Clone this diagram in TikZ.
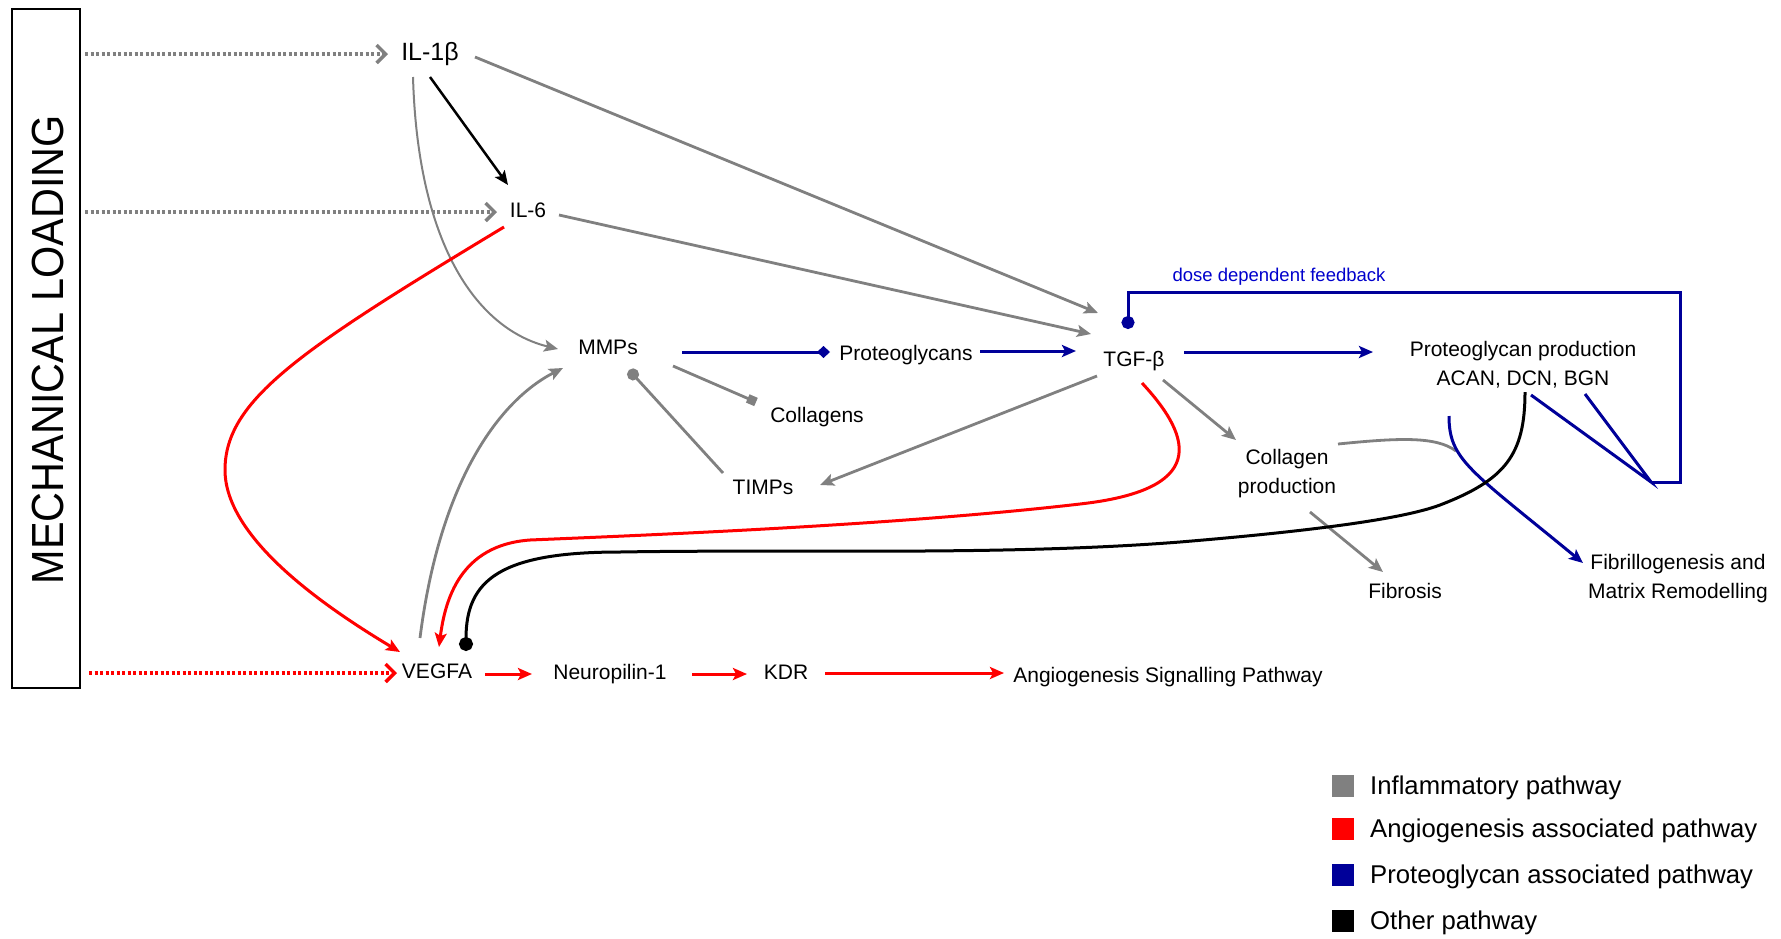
\documentclass[tikz,border=0pt]{standalone}
\usepackage{fontspec}
\setmainfont{Liberation Sans}
\usetikzlibrary{arrows.meta}
\definecolor{inflgray}{RGB}{128,128,128}
\definecolor{angred}{RGB}{255,0,0}
\definecolor{pgblue}{RGB}{0,0,153}
\definecolor{fbblue}{RGB}{0,0,204}

\begin{document}
\begin{tikzpicture}[x=1pt, y=-1pt,
  hd/.tip={Stealth[length=14pt,width=12pt,inset=3pt]},
  lbl/.style={inner sep=0pt, font=\fontsize{21}{29}\selectfont, text height=15pt, text depth=0pt},
  lbltwo/.style={inner sep=0pt, font=\fontsize{21}{29}\selectfont, align=center},
  gl/.style={draw=inflgray, line width=2.8pt},
  bl/.style={draw=pgblue, line width=3pt},
  rl/.style={draw=angred, line width=3pt},
  kl/.style={draw=black, line width=3pt},
  load/.style={line width=3.5pt, dash pattern=on 3pt off 2.5pt, -{Straight Barb[length=9pt,width=18pt]}},
  lsq/.style={minimum size=22pt, inner sep=0pt},
  ltx/.style={anchor=west, inner sep=0pt, font=\fontsize{25.7}{30}\selectfont, text height=18.4pt, text depth=0pt}]

\useasboundingbox (0,0) rectangle (1781,938);

% stimulus box
\node[draw=black, line width=2.5pt, minimum width=68pt, minimum height=679pt, inner sep=0pt, outer sep=0pt] (box) at (46,348.5) {};
\node[rotate=90, inner sep=0pt, font=\fontsize{45}{45}\selectfont] (mech) at (48,349.5) {\scalebox{0.92}[1]{MECHANICAL LOADING}};

% pathway members
\node[lbl, font=\fontsize{25}{30}\selectfont, text height=18pt] (il1b) at (430,51) {IL-1β};
\node[lbl] (il6) at (528,210) {IL-6};
\node[lbl] (mmps) at (608,347) {MMPs};
\node[lbl] (pg) at (906,353) {Proteoglycans};
\node[lbl] (coll) at (817,415) {Collagens};
\node[lbl] (timps) at (763,487) {TIMPs};
\node[lbl] (tgfb) at (1134,359) {TGF-β};
\node[lbltwo] (pgprod) at (1523,364.5) {Proteoglycan production\\ACAN, DCN, BGN};
\node[inner sep=0pt, font=\fontsize{18.5}{22}\selectfont, text=fbblue, text height=13.5pt, text depth=0pt] (dose) at (1279,275) {dose dependent feedback};
\node[lbltwo] (collprod) at (1287,473.5) {Collagen\\production};
\node[lbl] (fib) at (1405,591) {Fibrosis};
\node[lbltwo] (fibr) at (1678,578.5) {Fibrillogenesis and\\Matrix Remodelling};
\node[lbl] (vegfa) at (437,671) {VEGFA};
\node[lbl] (nrp) at (610,672) {Neuropilin-1};
\node[lbl] (kdr) at (786,672) {KDR};
\node[lbl] (angio) at (1168,675) {Angiogenesis Signalling Pathway};

% mechanical inputs
\draw[load, inflgray] ([shift={(5,45)}]box.north east) -- ([shift={(-42,3)}]il1b.center);
\draw[load, inflgray] ([shift={(5,203)}]box.north east) -- ([shift={(-31,2)}]il6.center);
\draw[load, angred] ([shift={(9,-15)}]box.south east) -- ([shift={(-40,2)}]vegfa.center);

% IL-1beta
\draw[kl, line width=2.5pt, -hd] ([shift={(0,26)}]il1b.center) -- ([shift={(-20,-25)}]il6.center);
\draw[gl, -hd] ([shift={(45,6)}]il1b.center) -- ([shift={(-36,-46)}]tgfb.center);
\draw[gl, line width=2pt, -hd] ([shift={(-17,26)}]il1b.center) .. controls +(5,173) and +(-78,-19) .. ([shift={(-50,2)}]mmps.center);

% IL-6
\draw[gl, -hd] ([shift={(31,5)}]il6.center) -- ([shift={(-43,-25)}]tgfb.center);
\draw[rl, -hd] ([shift={(-24,17)}]il6.center) .. controls (300,350) and (225,400) .. (225,470) .. controls (225,540) and (330,610) .. ([shift={(-37,-19)}]vegfa.center);

% VEGFA back to MMPs
\draw[gl, -hd] ([shift={(-17,-33)}]vegfa.center) .. controls +(20,-158) and +(-63,32) .. ([shift={(-45,21)}]mmps.center);

% MMPs and their partners
\draw[bl, -{Diamond[length=13pt,width=12pt]}] ([shift={(74,5)}]mmps.center) -- ([shift={(-76,-1)}]pg.center);
\draw[gl, -{Square[length=9pt,width=9pt]}] ([shift={(65,19)}]mmps.center) -- ([shift={(-61,-13)}]coll.center);
\draw[gl, -{Circle[length=12pt]}] ([shift={(-40,-14)}]timps.center) -- ([shift={(21,23)}]mmps.center);
\draw[bl, -hd] ([shift={(74,-2)}]pg.center) -- ([shift={(-58,-8)}]tgfb.center);

% TGF-beta
\draw[gl, -hd] ([shift={(-37,17)}]tgfb.center) -- ([shift={(57,-2)}]timps.center);
\draw[bl, -hd] ([shift={(50,-7)}]tgfb.center) -- ([shift={(-150,-12.5)}]pgprod.center);
\draw[gl, -hd] ([shift={(29,21)}]tgfb.center) -- ([shift={(-51,-33.5)}]collprod.center);
\draw[rl, -hd] ([shift={(8,24)}]tgfb.center) .. controls (1195,440) and (1205,490) .. (1080,504) .. controls (900,525) and (650,535) .. (530,540) .. controls (460,545) and (445,600) .. ([shift={(2,-24)}]vegfa.center);

% collagen production
\coordinate (merge) at (1456,451);
\draw[gl, -hd] ([shift={(23,38.5)}]collprod.center) -- ([shift={(-22,-19)}]fib.center);
\draw[gl] ([shift={(51,-29.5)}]collprod.center) .. controls +(60,-6) and +(-20,-15) .. (merge);

% proteoglycan production
\draw[bl, -hd] ([shift={(-74,51.5)}]pgprod.center) .. controls +(0,44) and +(-113,-93) .. ([shift={(-95,-15.5)}]fibr.center);
\coordinate (fbv) at (1651,482);
\draw[bl] ([shift={(8,30.5)}]pgprod.center) -- (fbv) -- ([shift={(62,29.5)}]pgprod.center);
\draw[bl, -{Circle[length=13pt]}] (fbv) -- ++(29,0) -- ++(0,-190) -| ([shift={(-6,-30)}]tgfb.center);

% other pathway
\draw[kl, -{Circle[length=14pt]}] ([shift={(2,27.5)}]pgprod.center) .. controls (1525,455) and (1505,480) .. (1440,505) .. controls (1400,520) and (1300,532) .. (1180,542) .. controls (1000,556) and (800,549) .. (620,552) .. controls (500,552) and (466,580) .. ([shift={(29,-20)}]vegfa.center);

% angiogenesis chain
\draw[rl, -hd] ([shift={(48,3)}]vegfa.center) -- ([shift={(-78,2)}]nrp.center);
\draw[rl, -hd] ([shift={(82,2)}]nrp.center) -- ([shift={(-39,2)}]kdr.center);
\draw[rl, -hd] ([shift={(39,1)}]kdr.center) -- ([shift={(-164,-2)}]angio.center);

% legend
\node[lsq, fill=inflgray] (sq1) at (1343,786) {};
\node[ltx] (lt1) at (1370,785) {Inflammatory pathway};
\node[lsq, fill=angred] (sq2) at (1343,829) {};
\node[ltx] (lt2) at (1370,828) {Angiogenesis associated pathway};
\node[lsq, fill=pgblue] (sq3) at (1343,875) {};
\node[ltx] (lt3) at (1370,874) {Proteoglycan associated pathway};
\node[lsq, fill=black] (sq4) at (1343,921) {};
\node[ltx] (lt4) at (1370,920) {Other pathway};
\end{tikzpicture}
\end{document}
